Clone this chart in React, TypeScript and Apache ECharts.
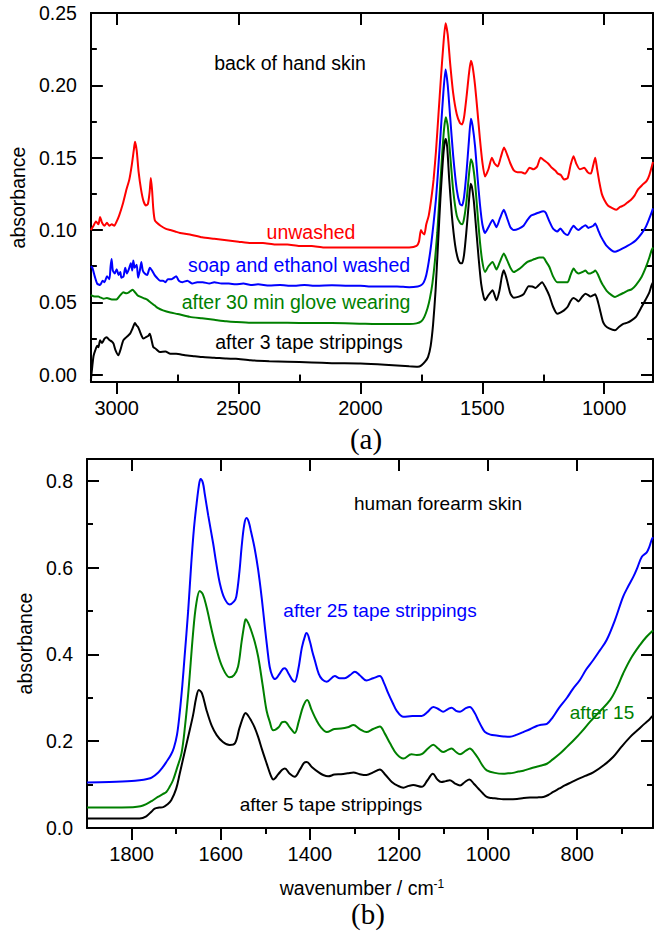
import React, { useEffect, useRef } from "react";
import * as echarts from "echarts";

const FONT = '"Liberation Sans", Arial, Helvetica, sans-serif';
const SERIF = '"Liberation Serif", "Times New Roman", serif';
const RED = "#ff0000";
const BLUE = "#0000ff";
const GREEN = "#008000";
const BLACK = "#000000";

// ---------- panel (a): back of hand skin ----------
const aXMajor = [1000, 1500, 2000, 2500, 3000];
const aXMinor = [1250, 1750, 2250, 2750];
const aYMajor = [0, 0.05, 0.1, 0.15, 0.2, 0.25];
const aYMinor = [0.025, 0.075, 0.125, 0.175, 0.225];

const aUnwashed: [number, number][] = [
  [3106, 0.1], [3095, 0.103], [3085, 0.106], [3075, 0.104], [3068, 0.109], [3060, 0.105], [3050, 0.103], [3040, 0.105], [3030, 0.103], [3020, 0.104], [3010, 0.103], [3000, 0.106], [2990, 0.11], [2975, 0.118], [2960, 0.128], [2948, 0.135], [2938, 0.145], [2930, 0.155], [2925, 0.161], [2918, 0.155], [2910, 0.14], [2900, 0.128], [2890, 0.12], [2880, 0.117], [2872, 0.118], [2865, 0.126], [2860, 0.136], [2855, 0.128], [2850, 0.115], [2844, 0.107], [2835, 0.105], [2820, 0.103], [2800, 0.101], [2780, 0.1], [2760, 0.099], [2740, 0.098], [2700, 0.097], [2650, 0.095], [2600, 0.094], [2550, 0.093], [2500, 0.092], [2450, 0.091], [2400, 0.091], [2350, 0.09], [2300, 0.09], [2250, 0.089], [2200, 0.089], [2150, 0.088], [2100, 0.088], [2050, 0.088], [2000, 0.088], [1950, 0.088], [1900, 0.088], [1850, 0.088], [1800, 0.088], [1770, 0.089], [1760, 0.092], [1752, 0.1], [1745, 0.098], [1738, 0.097], [1730, 0.104], [1720, 0.11], [1710, 0.121], [1700, 0.135], [1690, 0.155], [1680, 0.18], [1670, 0.205], [1660, 0.228], [1651, 0.243], [1642, 0.235], [1632, 0.215], [1620, 0.195], [1605, 0.18], [1592, 0.174], [1583, 0.173], [1575, 0.178], [1565, 0.192], [1555, 0.208], [1547, 0.217], [1540, 0.213], [1530, 0.2], [1520, 0.182], [1510, 0.163], [1500, 0.147], [1489, 0.137], [1475, 0.142], [1461, 0.15], [1450, 0.146], [1437, 0.144], [1425, 0.15], [1411, 0.157], [1398, 0.152], [1385, 0.146], [1370, 0.141], [1356, 0.14], [1340, 0.14], [1325, 0.139], [1306, 0.143], [1290, 0.142], [1275, 0.144], [1261, 0.15], [1245, 0.148], [1230, 0.146], [1215, 0.143], [1200, 0.141], [1190, 0.139], [1178, 0.138], [1165, 0.135], [1150, 0.136], [1138, 0.145], [1126, 0.151], [1115, 0.146], [1100, 0.142], [1082, 0.143], [1068, 0.14], [1055, 0.139], [1045, 0.145], [1037, 0.15], [1030, 0.143], [1020, 0.133], [1010, 0.125], [1000, 0.121], [985, 0.117], [965, 0.115], [950, 0.114], [935, 0.116], [920, 0.117], [905, 0.119], [890, 0.121], [875, 0.124], [862, 0.128], [845, 0.131], [826, 0.134], [815, 0.138], [800, 0.147],
];

const aSoapEthanol: [number, number][] = [
  [3106, 0.075], [3100, 0.074], [3090, 0.068], [3080, 0.063], [3068, 0.062], [3058, 0.065], [3050, 0.064], [3040, 0.068], [3030, 0.066], [3025, 0.075], [3021, 0.08], [3016, 0.072], [3008, 0.07], [3000, 0.073], [2992, 0.069], [2985, 0.071], [2981, 0.067], [2972, 0.068], [2965, 0.074], [2958, 0.07], [2950, 0.073], [2942, 0.077], [2936, 0.072], [2932, 0.079], [2926, 0.074], [2918, 0.076], [2912, 0.067], [2905, 0.072], [2899, 0.078], [2893, 0.072], [2885, 0.07], [2875, 0.069], [2864, 0.074], [2855, 0.072], [2845, 0.069], [2835, 0.067], [2822, 0.065], [2810, 0.065], [2800, 0.064], [2790, 0.066], [2775, 0.066], [2756, 0.068], [2745, 0.065], [2730, 0.064], [2710, 0.065], [2690, 0.063], [2670, 0.064], [2647, 0.064], [2620, 0.063], [2600, 0.064], [2570, 0.063], [2540, 0.063], [2512, 0.0625], [2480, 0.063], [2450, 0.062], [2420, 0.0625], [2374, 0.0617], [2330, 0.062], [2280, 0.0615], [2230, 0.062], [2180, 0.0615], [2117, 0.0618], [2050, 0.0615], [2000, 0.0615], [1950, 0.061], [1900, 0.061], [1850, 0.061], [1800, 0.0605], [1765, 0.061], [1750, 0.062], [1740, 0.064], [1730, 0.069], [1720, 0.078], [1710, 0.09], [1700, 0.105], [1690, 0.122], [1680, 0.145], [1670, 0.17], [1660, 0.195], [1651, 0.211], [1642, 0.2], [1632, 0.178], [1620, 0.152], [1605, 0.128], [1592, 0.118], [1583, 0.117], [1575, 0.123], [1565, 0.14], [1555, 0.162], [1547, 0.177], [1540, 0.172], [1530, 0.158], [1520, 0.137], [1510, 0.118], [1500, 0.104], [1489, 0.098], [1475, 0.102], [1458, 0.107], [1442, 0.102], [1428, 0.108], [1412, 0.114], [1398, 0.108], [1385, 0.102], [1371, 0.1], [1350, 0.101], [1331, 0.103], [1315, 0.107], [1300, 0.11], [1285, 0.111], [1270, 0.112], [1250, 0.113], [1240, 0.112], [1225, 0.106], [1210, 0.101], [1193, 0.099], [1180, 0.101], [1165, 0.098], [1150, 0.0965], [1138, 0.1], [1126, 0.103], [1115, 0.101], [1106, 0.1], [1090, 0.102], [1077, 0.1034], [1065, 0.1015], [1057, 0.102], [1045, 0.103], [1037, 0.1046], [1025, 0.1], [1015, 0.096], [1005, 0.093], [990, 0.089], [970, 0.086], [956, 0.085], [940, 0.086], [922, 0.0875], [905, 0.089], [888, 0.0907], [870, 0.093], [847, 0.0976], [830, 0.102], [815, 0.108], [806, 0.112], [800, 0.115],
];

const aGlove: [number, number][] = [
  [3106, 0.055], [3090, 0.054], [3075, 0.054], [3068, 0.0535], [3054, 0.0526], [3040, 0.053], [3020, 0.052], [3001, 0.052], [2990, 0.054], [2980, 0.056], [2973, 0.057], [2965, 0.0565], [2960, 0.0563], [2950, 0.057], [2942, 0.058], [2935, 0.0588], [2925, 0.057], [2915, 0.055], [2904, 0.054], [2890, 0.053], [2875, 0.052], [2863, 0.0503], [2845, 0.048], [2830, 0.046], [2810, 0.0445], [2780, 0.043], [2750, 0.042], [2700, 0.04], [2650, 0.039], [2600, 0.038], [2550, 0.037], [2511, 0.0365], [2450, 0.036], [2400, 0.036], [2300, 0.036], [2200, 0.0357], [2117, 0.0357], [2000, 0.0353], [1900, 0.035], [1800, 0.035], [1770, 0.0355], [1750, 0.037], [1738, 0.04], [1725, 0.046], [1715, 0.053], [1705, 0.063], [1695, 0.078], [1685, 0.098], [1675, 0.125], [1665, 0.152], [1657, 0.17], [1650, 0.178], [1642, 0.172], [1632, 0.152], [1620, 0.128], [1605, 0.11], [1592, 0.105], [1583, 0.104], [1575, 0.108], [1565, 0.12], [1555, 0.138], [1547, 0.149], [1540, 0.146], [1530, 0.133], [1520, 0.112], [1510, 0.092], [1500, 0.078], [1489, 0.071], [1475, 0.075], [1458, 0.078], [1442, 0.0727], [1428, 0.078], [1412, 0.0838], [1398, 0.079], [1385, 0.074], [1371, 0.071], [1350, 0.073], [1331, 0.0757], [1315, 0.078], [1300, 0.079], [1285, 0.08], [1265, 0.081], [1250, 0.081], [1238, 0.078], [1225, 0.0745], [1210, 0.068], [1193, 0.064], [1170, 0.064], [1150, 0.064], [1138, 0.069], [1126, 0.0734], [1115, 0.071], [1106, 0.07], [1090, 0.071], [1077, 0.072], [1065, 0.07], [1057, 0.07], [1045, 0.071], [1037, 0.072], [1025, 0.069], [1015, 0.065], [1005, 0.0618], [990, 0.058], [970, 0.055], [956, 0.0538], [940, 0.055], [922, 0.0565], [905, 0.058], [888, 0.059], [870, 0.062], [847, 0.0676], [830, 0.074], [815, 0.081], [806, 0.086], [800, 0.088],
];

const aTape3: [number, number][] = [
  [3106, -0.004], [3100, 0.006], [3095, 0.013], [3088, 0.0168], [3080, 0.02], [3075, 0.019], [3068, 0.0238], [3060, 0.022], [3050, 0.025], [3041, 0.026], [3030, 0.024], [3020, 0.023], [3013, 0.0215], [3005, 0.017], [2993, 0.0134], [2985, 0.017], [2973, 0.0238], [2960, 0.026], [2945, 0.0284], [2935, 0.032], [2925, 0.0357], [2918, 0.034], [2912, 0.0329], [2905, 0.03], [2898, 0.027], [2891, 0.025], [2880, 0.026], [2870, 0.027], [2864, 0.0284], [2857, 0.024], [2850, 0.0192], [2840, 0.018], [2823, 0.0157], [2800, 0.016], [2780, 0.0145], [2756, 0.0145], [2720, 0.0135], [2680, 0.0128], [2647, 0.0122], [2600, 0.0118], [2550, 0.0112], [2511, 0.011], [2450, 0.01], [2374, 0.0094], [2300, 0.009], [2200, 0.0085], [2117, 0.008], [2000, 0.0078], [1900, 0.007], [1800, 0.0058], [1765, 0.0055], [1750, 0.0065], [1735, 0.009], [1723, 0.0122], [1712, 0.02], [1702, 0.035], [1692, 0.058], [1682, 0.09], [1672, 0.122], [1662, 0.148], [1655, 0.16], [1650, 0.163], [1644, 0.157], [1636, 0.135], [1625, 0.11], [1612, 0.09], [1600, 0.08], [1590, 0.077], [1583, 0.077], [1575, 0.083], [1566, 0.098], [1556, 0.118], [1548, 0.132], [1543, 0.13], [1535, 0.12], [1525, 0.1], [1515, 0.08], [1505, 0.063], [1495, 0.054], [1489, 0.0515], [1475, 0.055], [1458, 0.0584], [1442, 0.0515], [1430, 0.058], [1420, 0.068], [1412, 0.0722], [1400, 0.066], [1385, 0.056], [1371, 0.0533], [1350, 0.054], [1331, 0.0556], [1310, 0.0612], [1295, 0.061], [1282, 0.06], [1268, 0.062], [1255, 0.064], [1240, 0.06], [1225, 0.0545], [1210, 0.047], [1193, 0.0422], [1180, 0.043], [1165, 0.0445], [1150, 0.047], [1138, 0.051], [1126, 0.053], [1115, 0.052], [1106, 0.0507], [1090, 0.054], [1077, 0.056], [1065, 0.055], [1057, 0.054], [1045, 0.055], [1037, 0.0556], [1025, 0.05], [1015, 0.043], [1005, 0.0365], [996, 0.034], [980, 0.032], [956, 0.0307], [940, 0.033], [922, 0.0352], [905, 0.036], [888, 0.0376], [870, 0.04], [847, 0.0468], [830, 0.052], [815, 0.057], [806, 0.0618], [800, 0.064],
];

// ---------- panel (b): human forearm skin ----------
const bXMajor = [800, 1000, 1200, 1400, 1600, 1800];
const bXMinor = [700, 900, 1100, 1300, 1500, 1700];
const bYMajor = [0, 0.2, 0.4, 0.6, 0.8];
const bYMinor = [0.1, 0.3, 0.5, 0.7];

const bTape25: [number, number][] = [
  [1900, 0.105], [1850, 0.106], [1800, 0.108], [1782, 0.11], [1765, 0.113], [1755, 0.116], [1740, 0.128], [1730, 0.14], [1722, 0.152], [1712, 0.168], [1705, 0.185], [1698, 0.215], [1692, 0.265], [1686, 0.33], [1681, 0.395], [1673, 0.5], [1666, 0.61], [1660, 0.69], [1654, 0.748], [1648, 0.795], [1645, 0.804], [1640, 0.795], [1636, 0.771], [1628, 0.72], [1617, 0.656], [1610, 0.61], [1602, 0.564], [1592, 0.53], [1580, 0.515], [1570, 0.522], [1565, 0.533], [1558, 0.59], [1553, 0.648], [1547, 0.7], [1542, 0.714], [1537, 0.705], [1532, 0.683], [1524, 0.645], [1516, 0.595], [1508, 0.53], [1501, 0.464], [1495, 0.41], [1490, 0.371], [1484, 0.35], [1478, 0.343], [1468, 0.355], [1460, 0.367], [1456, 0.368], [1448, 0.356], [1440, 0.342], [1434, 0.337], [1426, 0.365], [1418, 0.415], [1410, 0.445], [1407, 0.449], [1400, 0.43], [1394, 0.405], [1389, 0.387], [1380, 0.355], [1372, 0.342], [1362, 0.337], [1344, 0.35], [1333, 0.345], [1322, 0.345], [1310, 0.352], [1299, 0.36], [1288, 0.352], [1273, 0.34], [1258, 0.345], [1243, 0.35], [1234, 0.335], [1224, 0.31], [1214, 0.288], [1205, 0.27], [1190, 0.256], [1170, 0.258], [1149, 0.258], [1135, 0.268], [1123, 0.279], [1110, 0.273], [1101, 0.268], [1090, 0.274], [1082, 0.277], [1072, 0.27], [1063, 0.268], [1050, 0.276], [1041, 0.279], [1030, 0.265], [1022, 0.248], [1014, 0.232], [1007, 0.221], [995, 0.215], [981, 0.213], [965, 0.211], [951, 0.21], [935, 0.215], [921, 0.221], [905, 0.228], [891, 0.235], [880, 0.238], [868, 0.24], [855, 0.255], [842, 0.275], [823, 0.3], [810, 0.32], [794, 0.341], [780, 0.365], [764, 0.387], [750, 0.408], [734, 0.433], [715, 0.48], [697, 0.533], [685, 0.558], [674, 0.579], [665, 0.6], [655, 0.625], [644, 0.635], [638, 0.648], [633, 0.664], [630, 0.67],
];

const bTape15: [number, number][] = [
  [1900, 0.047], [1850, 0.047], [1797, 0.048], [1780, 0.05], [1767, 0.055], [1755, 0.062], [1741, 0.0716], [1730, 0.078], [1722, 0.083], [1715, 0.094], [1707, 0.11], [1698, 0.138], [1688, 0.172], [1680, 0.235], [1672, 0.32], [1662, 0.449], [1655, 0.515], [1647, 0.546], [1640, 0.538], [1632, 0.51], [1620, 0.455], [1609, 0.41], [1596, 0.37], [1580, 0.347], [1570, 0.352], [1561, 0.372], [1553, 0.43], [1546, 0.475], [1544, 0.481], [1538, 0.472], [1532, 0.456], [1524, 0.43], [1516, 0.395], [1506, 0.33], [1497, 0.27], [1490, 0.245], [1482, 0.225], [1470, 0.232], [1462, 0.244], [1456, 0.245], [1445, 0.232], [1434, 0.219], [1425, 0.245], [1415, 0.28], [1406, 0.295], [1396, 0.272], [1385, 0.248], [1375, 0.232], [1362, 0.221], [1345, 0.228], [1330, 0.229], [1315, 0.232], [1302, 0.237], [1288, 0.228], [1273, 0.221], [1258, 0.228], [1243, 0.234], [1232, 0.218], [1220, 0.195], [1205, 0.17], [1190, 0.16], [1172, 0.17], [1160, 0.168], [1149, 0.17], [1135, 0.183], [1123, 0.192], [1112, 0.183], [1101, 0.175], [1090, 0.18], [1082, 0.183], [1072, 0.175], [1063, 0.17], [1050, 0.178], [1041, 0.183], [1030, 0.172], [1022, 0.16], [1012, 0.143], [1003, 0.133], [985, 0.127], [966, 0.125], [955, 0.126], [944, 0.127], [932, 0.13], [921, 0.132], [905, 0.137], [891, 0.141], [880, 0.144], [868, 0.148], [855, 0.158], [838, 0.172], [822, 0.188], [808, 0.202], [790, 0.222], [771, 0.245], [750, 0.268], [726, 0.295], [710, 0.325], [697, 0.356], [680, 0.39], [659, 0.422], [645, 0.44], [633, 0.452], [630, 0.455],
];

const bTape5: [number, number][] = [
  [1900, 0.022], [1850, 0.022], [1782, 0.022], [1767, 0.027], [1755, 0.038], [1748, 0.0447], [1738, 0.047], [1729, 0.048], [1720, 0.054], [1711, 0.064], [1700, 0.09], [1692, 0.125], [1682, 0.17], [1673, 0.21], [1662, 0.26], [1655, 0.3], [1649, 0.318], [1642, 0.31], [1632, 0.272], [1620, 0.235], [1609, 0.214], [1595, 0.198], [1580, 0.191], [1568, 0.195], [1558, 0.23], [1548, 0.26], [1544, 0.265], [1538, 0.258], [1532, 0.248], [1524, 0.232], [1516, 0.21], [1507, 0.18], [1497, 0.149], [1488, 0.122], [1482, 0.112], [1470, 0.125], [1462, 0.134], [1456, 0.137], [1445, 0.125], [1434, 0.118], [1422, 0.135], [1413, 0.15], [1407, 0.152], [1395, 0.14], [1380, 0.128], [1370, 0.122], [1359, 0.119], [1345, 0.123], [1330, 0.124], [1315, 0.126], [1302, 0.128], [1288, 0.124], [1273, 0.122], [1258, 0.128], [1243, 0.135], [1230, 0.122], [1216, 0.106], [1202, 0.097], [1190, 0.093], [1178, 0.097], [1168, 0.099], [1149, 0.095], [1136, 0.11], [1124, 0.125], [1114, 0.112], [1105, 0.106], [1095, 0.108], [1086, 0.11], [1075, 0.103], [1063, 0.098], [1052, 0.106], [1042, 0.112], [1032, 0.102], [1022, 0.091], [1012, 0.08], [1003, 0.0716], [992, 0.069], [981, 0.068], [966, 0.066], [951, 0.066], [935, 0.067], [920, 0.069], [906, 0.07], [890, 0.0705], [876, 0.0716], [865, 0.076], [854, 0.083], [840, 0.091], [828, 0.098], [816, 0.104], [800, 0.112], [782, 0.12], [764, 0.128], [740, 0.145], [719, 0.164], [700, 0.188], [681, 0.21], [665, 0.225], [648, 0.241], [638, 0.25], [633, 0.256], [630, 0.258],
];

const AXIS_LINE = { color: "#000", width: 2 };

function xAxes(grid: number, min: number, max: number, majors: number[], minors: number[], fmt: (v: number) => string, name?: any) {
  const base = { type: "value", gridIndex: grid, min, max, inverse: true, splitLine: { show: false } };
  return [
    {
      ...base, position: "bottom",
      axisLine: { show: true, onZero: false, lineStyle: AXIS_LINE },
      axisTick: { show: true, inside: false, length: 12, lineStyle: AXIS_LINE, customValues: majors },
      axisLabel: { show: true, customValues: majors, formatter: fmt, fontSize: 20, fontFamily: FONT, color: "#000", margin: 16 },
      ...(name || {}),
    },
    {
      ...base, position: "bottom",
      axisLine: { show: false },
      axisTick: { show: true, inside: false, length: 6, lineStyle: AXIS_LINE, customValues: minors },
      axisLabel: { show: false },
    },
    {
      ...base, position: "top",
      axisLine: { show: true, onZero: false, lineStyle: AXIS_LINE },
      axisTick: { show: true, inside: true, length: 12, lineStyle: AXIS_LINE, customValues: majors },
      axisLabel: { show: false },
    },
    {
      ...base, position: "top",
      axisLine: { show: false },
      axisTick: { show: true, inside: true, length: 6, lineStyle: AXIS_LINE, customValues: minors },
      axisLabel: { show: false },
    },
  ];
}

function yAxes(grid: number, min: number, max: number, majors: number[], minors: number[], fmt: (v: number) => string, nameGap: number) {
  const base = { type: "value", gridIndex: grid, min, max, splitLine: { show: false } };
  return [
    {
      ...base, position: "left",
      axisLine: { show: true, onZero: false, lineStyle: AXIS_LINE },
      axisTick: { show: true, inside: true, length: 12, lineStyle: AXIS_LINE, customValues: majors },
      axisLabel: { show: true, customValues: majors, formatter: fmt, fontSize: 19.5, fontFamily: FONT, color: "#000", margin: 14 },
      name: "absorbance", nameLocation: "middle", nameGap,
      nameTextStyle: { fontSize: 19.5, fontFamily: FONT, color: "#000" },
    },
    {
      ...base, position: "left",
      axisLine: { show: false },
      axisTick: { show: true, inside: true, length: 6, lineStyle: AXIS_LINE, customValues: minors },
      axisLabel: { show: false },
    },
    {
      ...base, position: "right",
      axisLine: { show: true, onZero: false, lineStyle: AXIS_LINE },
      axisTick: { show: true, inside: true, length: 12, lineStyle: AXIS_LINE, customValues: majors },
      axisLabel: { show: false },
    },
    {
      ...base, position: "right",
      axisLine: { show: false },
      axisTick: { show: true, inside: true, length: 6, lineStyle: AXIS_LINE, customValues: minors },
      axisLabel: { show: false },
    },
  ];
}

function line(name: string, data: [number, number][], color: string, axisIdx: number, smooth: number) {
  return {
    type: "line", name, data, xAxisIndex: axisIdx, yAxisIndex: axisIdx,
    showSymbol: false, symbol: "none", smooth,
    lineStyle: { color, width: 2 }, itemStyle: { color },
  };
}

function label(text: string, x: number, y: number, fill: string, fontSize = 19.5, fontFamily = FONT) {
  return {
    type: "text", x, y, silent: true,
    style: { text, fill, fontSize, fontFamily, align: "center", verticalAlign: "middle" },
  };
}

export default function App() {
  const ref = useRef<HTMLDivElement>(null);
  useEffect(() => {
    if (!ref.current) return;
    const chart = echarts.init(ref.current, undefined, { renderer: "svg" });
    const xName = {
      name: "{a|wavenumber / cm}{s|-1}",
      nameLocation: "middle",
      nameGap: 50,
      nameTextStyle: {
        padding: [0, 16, 0, 0],
        rich: {
          a: { fontSize: 19.5, fontFamily: FONT, color: "#000" },
          s: { fontSize: 12, fontFamily: FONT, color: "#000", verticalAlign: "top" },
        },
      },
    };
    chart.setOption({
      animation: false,
      backgroundColor: "#fff",
      grid: [
        { left: 87, top: 13, width: 566, height: 369 },
        { left: 87, top: 459, width: 566, height: 369 },
      ],
      xAxis: [
        ...xAxes(0, 800, 3106, aXMajor, aXMinor, (v: number) => String(v)),
        ...xAxes(1, 630, 1900, bXMajor, bXMinor, (v: number) => String(v), xName),
      ],
      yAxis: [
        ...yAxes(0, -0.005, 0.25, aYMajor, aYMinor, (v: number) => v.toFixed(2), 60),
        ...yAxes(1, 0, 0.85, bYMajor, bYMinor, (v: number) => v.toFixed(1), 52),
      ],
      series: [
        line("unwashed", aUnwashed, RED, 0, 0.2),
        line("soap and ethanol washed", aSoapEthanol, BLUE, 0, 0.2),
        line("after 30 min glove wearing", aGlove, GREEN, 0, 0.2),
        line("after 3 tape strippings", aTape3, BLACK, 0, 0.2),
        line("after 25 tape strippings", bTape25, BLUE, 4, 0.35),
        line("after 15", bTape15, GREEN, 4, 0.35),
        line("after 5 tape strippings", bTape5, BLACK, 4, 0.35),
      ],
      graphic: [
        label("back of hand skin", 290, 63, BLACK),
        label("unwashed", 311, 232, RED),
        label("soap and ethanol washed", 299, 265, BLUE),
        label("after 30 min glove wearing", 296, 302, GREEN),
        label("after 3 tape strippings", 309, 342, BLACK),
        label("(a)", 366, 439, BLACK, 29, SERIF),
        label("human forearm skin", 438, 503, BLACK, 19),
        label("after 25 tape strippings", 380, 610, BLUE, 19),
        label("after 15", 602, 712, GREEN, 19),
        label("after 5 tape strippings", 331, 804, BLACK, 19),
        label("(b)", 368, 914, BLACK, 29, SERIF),
      ],
    });
    return () => chart.dispose();
  }, []);
  return (
    <div
      ref={ref}
      style={{ position: "absolute", left: 0, top: 0, width: 658, height: 937, background: "#fff" }}
    />
  );
}
